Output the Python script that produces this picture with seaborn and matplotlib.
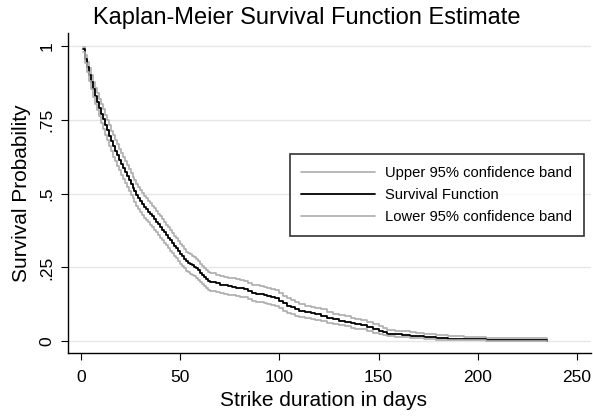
import matplotlib
matplotlib.use("Agg")
import matplotlib.pyplot as plt
import seaborn as sns
import pandas as pd

# strike duration (days) and Kaplan-Meier estimate
days = [1, 2, 3, 4, 5, 6, 7, 8, 9, 10, 11, 12, 13, 14, 15, 16, 17, 18, 19, 20,
        21, 22, 23, 24, 25, 26, 27, 28, 29, 30, 31, 32, 33, 34, 35, 36, 37, 38, 39, 40,
        41, 42, 43, 44, 45, 46, 47, 48, 49, 50, 51, 52, 53, 54, 55, 56, 57, 58, 59, 60,
        61, 62, 63, 64, 65, 68, 70, 72, 74, 76, 78, 80, 82, 84, 86, 88, 90, 92, 94, 96,
        98, 100, 102, 104, 106, 108, 110, 113, 116, 118, 121, 124, 127, 130, 133, 136, 138, 141, 144, 147,
        150, 152, 154, 158, 162, 166, 169, 173, 179, 185, 193, 204, 216, 235]

survival = [.990, .957, .930, .904, .878, .854, .832, .812, .792, .772, .753, .734, .715, .697, .679, .662, .646, .631, .616, .602,
            .588, .574, .560, .547, .534, .521, .508, .496, .485, .475, .465, .456, .447, .439, .431, .423, .414, .405, .396, .387,
            .378, .369, .360, .351, .342, .333, .324, .315, .306, .297, .289, .280, .271, .266, .262, .257, .252, .247, .240, .232,
            .225, .218, .211, .205, .201, .196, .192, .189, .186, .184, .182, .180, .177, .170, .164, .161, .159, .156, .153, .150,
            .147, .138, .128, .121, .115, .109, .104, .099, .095, .091, .087, .080, .074, .070, .066, .061, .058, .054, .048, .041,
            .035, .030, .026, .023, .021, .019, .017, .014, .011, .009, .007, .005, .0035, .0018]

upper = [.996, .971, .947, .925, .902, .880, .860, .841, .822, .804, .786, .768, .749, .732, .714, .698, .682, .667, .652, .639,
         .625, .611, .597, .584, .571, .558, .545, .533, .522, .512, .502, .493, .484, .475, .467, .459, .450, .441, .432, .423,
         .414, .404, .395, .386, .377, .368, .358, .349, .340, .331, .322, .313, .304, .299, .295, .289, .284, .279, .272, .263,
         .256, .249, .241, .235, .231, .226, .221, .218, .215, .213, .211, .209, .205, .198, .192, .189, .186, .183, .180, .177,
         .174, .164, .153, .145, .139, .132, .126, .121, .117, .112, .108, .100, .093, .089, .084, .079, .076, .071, .065, .057,
         .050, .044, .039, .035, .033, .030, .028, .024, .021, .018, .015, .012, .0105, .008]

lower = [.980, .943, .913, .883, .854, .828, .804, .783, .762, .740, .720, .700, .681, .662, .644, .626, .610, .595, .580, .565,
         .551, .537, .523, .510, .497, .484, .471, .459, .448, .438, .428, .419, .410, .403, .395, .387, .378, .369, .360, .351,
         .342, .334, .325, .316, .307, .298, .290, .281, .272, .263, .256, .247, .238, .233, .229, .225, .220, .215, .208, .201,
         .194, .187, .181, .175, .171, .166, .163, .160, .157, .155, .153, .151, .149, .142, .136, .133, .132, .129, .126, .123,
         .120, .112, .103, .097, .091, .086, .082, .078, .075, .071, .068, .062, .057, .054, .050, .046, .043, .040, .035, .029,
         .024, .020, .017, .015, .013, .012, .010, .008, .005, .004, .003, .002, .0015, .0005]

x_ticks = [0, 50, 100, 150, 200, 250]
y_ticks = [0, .25, .5, .75, 1]
y_tick_labels = ["0", ".25", ".5", ".75", "1"]

df = pd.DataFrame({"days": days, "survival": survival, "upper": upper, "lower": lower})

sns.set_style("white")
plt.rcParams["font.family"] = ["Liberation Sans", "DejaVu Sans"]
plt.rcParams["text.color"] = "black"
plt.rcParams["axes.labelcolor"] = "black"
plt.rcParams["xtick.color"] = "black"
plt.rcParams["ytick.color"] = "black"

fig = plt.figure(figsize=(5.93, 4.17), dpi=100)
ax = fig.add_axes([68 / 593, 1 - 353 / 417, 523 / 593, 320 / 417])

band = "#adadad"
sns.lineplot(data=df, x="days", y="upper", ax=ax, color=band, lw=1.2,
             drawstyle="steps-post", label="Upper 95% confidence band")
sns.lineplot(data=df, x="days", y="survival", ax=ax, color="black", lw=1.3,
             drawstyle="steps-post", label="Survival Function")
sns.lineplot(data=df, x="days", y="lower", ax=ax, color=band, lw=1.2,
             drawstyle="steps-post", label="Lower 95% confidence band")

ax.set_xlim(-6.5, 257)
ax.set_ylim(-0.04, 1.045)
ax.set_xticks(x_ticks)
ax.set_yticks(y_ticks)
ax.set_yticklabels(y_tick_labels, rotation=90, va="center")
ax.grid(axis="y", color="#e6e6e6", lw=1)
ax.grid(axis="x", visible=False)
for side in ["top", "right"]:
    ax.spines[side].set_visible(False)
for side in ["left", "bottom"]:
    ax.spines[side].set_color("black")
    ax.spines[side].set_linewidth(1)
ax.tick_params(axis="both", direction="out", length=5, width=0.8, color="black",
               labelsize=12.5, labelcolor="black", bottom=True, left=True)
ax.tick_params(axis="x", pad=7)
ax.tick_params(axis="y", pad=4.5)

ax.set_xlabel("Strike duration in days", fontsize=15, color="black")
ax.xaxis.set_label_coords((323 - 68) / 523, -0.12)
ax.set_ylabel("Survival Probability", fontsize=15, labelpad=6, color="black")
fig.text(307 / 593, 1 - 18 / 417, "Kaplan-Meier Survival Function Estimate",
         ha="center", va="center", fontsize=17, color="black")

leg = ax.legend(loc="upper right", bbox_to_anchor=(0.9866, 0.622), fontsize=10.6,
                frameon=True, fancybox=False, edgecolor="black", handlelength=5.0,
                handletextpad=0.7, borderpad=0.8, labelspacing=0.55, borderaxespad=0)
leg.get_frame().set_linewidth(1.2)
for t in leg.get_texts():
    t.set_color("black")

fig.savefig("out.png", dpi=100)
